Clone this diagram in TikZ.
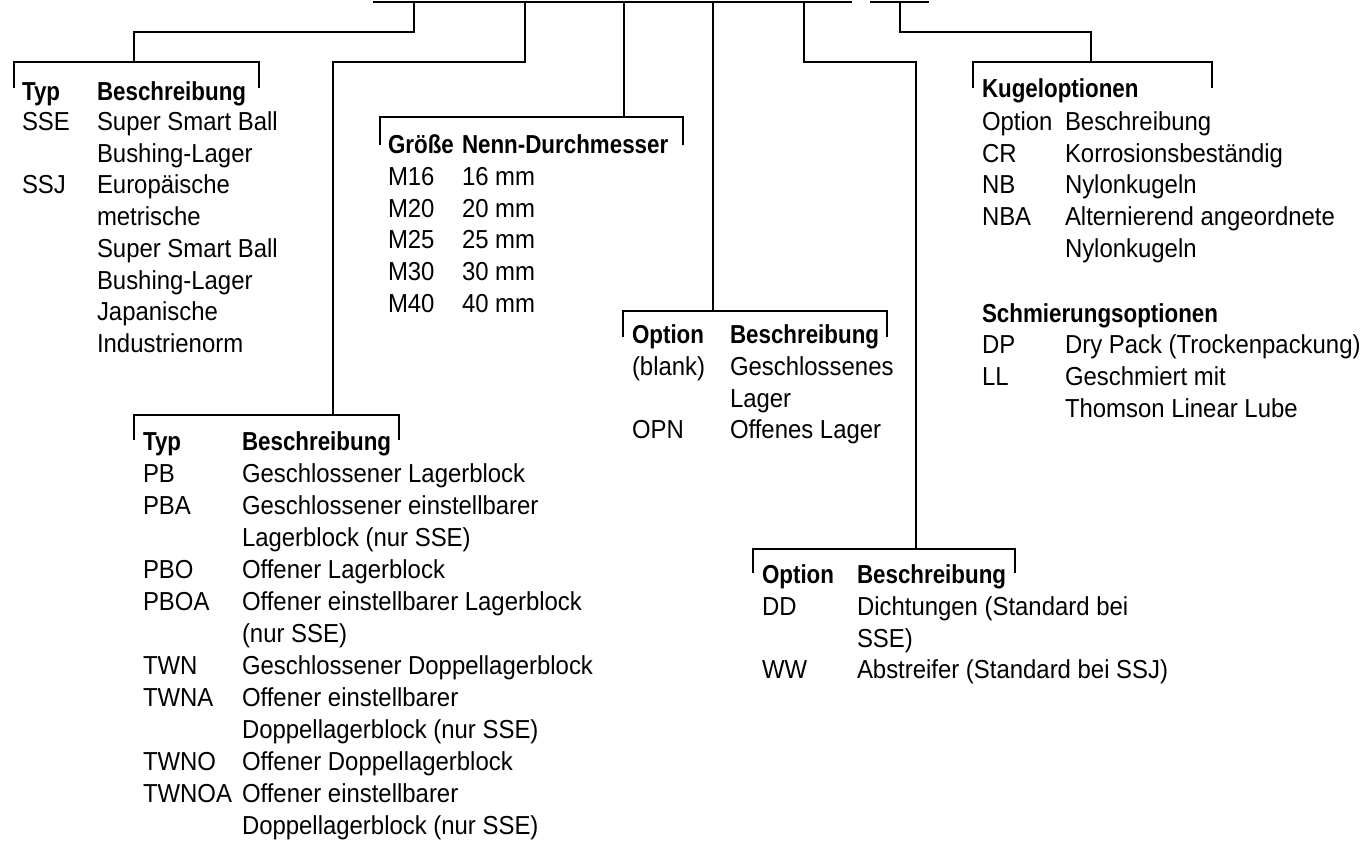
\documentclass[tikz,border=0pt]{standalone}
\usepackage{fontspec}
\setmainfont{Liberation Sans}[FakeStretch=0.92, BoldFeatures={FakeStretch=0.86}]
\tikzset{
  ln/.style={line width=2.6pt, line join=miter},
  txt/.style={anchor=base west, inner sep=0pt, outer sep=0pt, font=\fontsize{26}{30}\selectfont},
  hd/.style={txt, font=\fontsize{26}{30}\selectfont\bfseries}
}
\newcommand\brk[5]{%
  \coordinate (#1l) at (#2,#4); \coordinate (#1r) at (#3,#4);
  \coordinate (#1lb) at (#2,#5); \coordinate (#1rb) at (#3,#5);
  \draw[ln] (#1lb) -- (#1l) -- (#1r) -- (#1rb);}
\begin{document}
\begin{tikzpicture}[x=1pt,y=-1pt]
\useasboundingbox (0,0) rectangle (1362,841);
% top bars
\coordinate (t1L) at (373,2); \coordinate (t1R) at (852,2);
\coordinate (t2L) at (870,2); \coordinate (t2R) at (929,2);
\draw[ln] (t1L) -- (t1R);
\draw[ln] (t2L) -- (t2R);
% brackets
\brk{b1}{14}{259}{62}{88}
\brk{b2}{134}{399}{415}{440}
\brk{b3}{380}{683}{117}{145}
\brk{b4}{623}{887}{311}{337}
\brk{b5}{753}{1015}{549}{573}
\brk{b6}{973}{1212}{62}{88}
% drops
\coordinate (d1a) at (414,2); \coordinate (d1b) at (414,32); \coordinate (d1c) at (134,32); \coordinate (d1d) at (134,62);
\draw[ln] (d1a) -- (d1b) -- (d1c) -- (d1d);
\coordinate (d2a) at (525,2); \coordinate (d2b) at (525,62); \coordinate (d2c) at (333,62); \coordinate (d2d) at (333,415);
\draw[ln] (d2a) -- (d2b) -- (d2c) -- (d2d);
\coordinate (d3a) at (624,2); \coordinate (d3d) at (624,117);
\draw[ln] (d3a) -- (d3d);
\coordinate (d4a) at (713,2); \coordinate (d4d) at (713,311);
\draw[ln] (d4a) -- (d4d);
\coordinate (d5a) at (804,2); \coordinate (d5b) at (804,62); \coordinate (d5c) at (916,62); \coordinate (d5d) at (916,549);
\draw[ln] (d5a) -- (d5b) -- (d5c) -- (d5d);
\coordinate (d6a) at (900,2); \coordinate (d6b) at (900,32); \coordinate (d6c) at (1091,32); \coordinate (d6d) at (1091,62);
\draw[ln] (d6a) -- (d6b) -- (d6c) -- (d6d);
% block 1
\node[hd] (a0) at (22,100) {Typ};
\node[hd] (a0b) at (97,100) {Beschreibung};
\node[txt] (a1) at (22,130) {SSE};
\node[txt] (a1b) at (97,130) {Super Smart Ball};
\node[txt] (a2b) at (97,162) {Bushing-Lager};
\node[txt] (a3) at (22,193) {SSJ};
\node[txt] (a3b) at (97,193) {Europäische};
\node[txt] (a4b) at (97,225) {metrische};
\node[txt] (a5b) at (97,257) {Super Smart Ball};
\node[txt] (a6b) at (97,289) {Bushing-Lager};
\node[txt] (a7b) at (97,320) {Japanische};
\node[txt] (a8b) at (97,352) {Industrienorm};
% block 3
\node[hd] (c0) at (388,153) {Größe};
\node[hd] (c0b) at (462,153) {Nenn-Durchmesser};
\node[txt] (c1) at (388,185) {M16};
\node[txt] (c1b) at (462,185) {16 mm};
\node[txt] (c2) at (388,217) {M20};
\node[txt] (c2b) at (462,217) {20 mm};
\node[txt] (c3) at (388,248) {M25};
\node[txt] (c3b) at (462,248) {25 mm};
\node[txt] (c4) at (388,280) {M30};
\node[txt] (c4b) at (462,280) {30 mm};
\node[txt] (c5) at (388,312) {M40};
\node[txt] (c5b) at (462,312) {40 mm};
% block 4
\node[hd] (e0) at (632,343) {Option};
\node[hd] (e0b) at (730,343) {Beschreibung};
\node[txt] (e1) at (632,375) {(blank)};
\node[txt] (e1b) at (730,375) {Geschlossenes};
\node[txt] (e2b) at (730,407) {Lager};
\node[txt] (e3) at (632,438) {OPN};
\node[txt] (e3b) at (730,438) {Offenes Lager};
% block 2
\node[hd] (p0) at (143,450) {Typ};
\node[hd] (p0b) at (242,450) {Beschreibung};
\node[txt] (p1) at (143,482) {PB};
\node[txt] (p1b) at (242,482) {Geschlossener Lagerblock};
\node[txt] (p2) at (143,514) {PBA};
\node[txt] (p2b) at (242,514) {Geschlossener einstellbarer};
\node[txt] (p3b) at (242,546) {Lagerblock (nur SSE)};
\node[txt] (p4) at (143,578) {PBO};
\node[txt] (p4b) at (242,578) {Offener Lagerblock};
\node[txt] (p5) at (143,610) {PBOA};
\node[txt] (p5b) at (242,610) {Offener einstellbarer Lagerblock};
\node[txt] (p6b) at (242,642) {(nur SSE)};
\node[txt] (p7) at (143,674) {TWN};
\node[txt] (p7b) at (242,674) {Geschlossener Doppellagerblock};
\node[txt] (p8) at (143,706) {TWNA};
\node[txt] (p8b) at (242,706) {Offener einstellbarer};
\node[txt] (p9b) at (242,738) {Doppellagerblock (nur SSE)};
\node[txt] (p10) at (143,770) {TWNO};
\node[txt] (p10b) at (242,770) {Offener Doppellagerblock};
\node[txt] (p11) at (143,802) {TWNOA};
\node[txt] (p11b) at (242,802) {Offener einstellbarer};
\node[txt] (p12b) at (242,834) {Doppellagerblock (nur SSE)};
% block 5
\node[hd] (w0) at (762,583) {Option};
\node[hd] (w0b) at (857,583) {Beschreibung};
\node[txt] (w1) at (762,615) {DD};
\node[txt] (w1b) at (857,615) {Dichtungen (Standard bei};
\node[txt] (w2b) at (857,647) {SSE)};
\node[txt] (w3) at (762,678) {WW};
\node[txt] (w3b) at (857,678) {Abstreifer (Standard bei SSJ)};
% block 6
\node[hd] (k0) at (982,97) {Kugeloptionen};
\node[txt] (k1) at (982,130) {Option};
\node[txt] (k1b) at (1065,130) {Beschreibung};
\node[txt] (k2) at (982,162) {CR};
\node[txt] (k2b) at (1065,162) {Korrosionsbeständig};
\node[txt] (k3) at (982,193) {NB};
\node[txt] (k3b) at (1065,193) {Nylonkugeln};
\node[txt] (k4) at (982,225) {NBA};
\node[txt] (k4b) at (1065,225) {Alternierend angeordnete};
\node[txt] (k5b) at (1065,257) {Nylonkugeln};
\node[hd] (s0) at (982,322) {Schmierungsoptionen};
\node[txt] (s1) at (982,353) {DP};
\node[txt] (s1b) at (1065,353) {Dry Pack (Trockenpackung)};
\node[txt] (s2) at (982,385) {LL};
\node[txt] (s2b) at (1065,385) {Geschmiert mit};
\node[txt] (s3b) at (1065,417) {Thomson Linear Lube};
\end{tikzpicture}
\end{document}
